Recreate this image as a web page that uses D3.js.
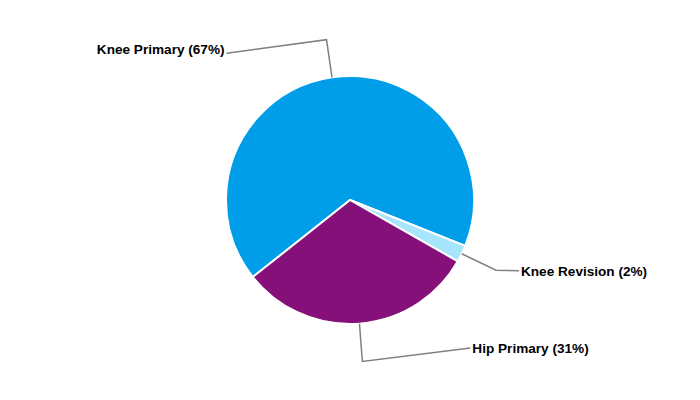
<!DOCTYPE html>
<html><head><meta charset="utf-8">
<script src="https://cdn.jsdelivr.net/npm/d3@7/dist/d3.min.js"></script>
<style>html,body{margin:0;padding:0;background:#fff;}svg{display:block;}</style>
</head><body>
<svg id="chart" width="700" height="400"></svg>
<script>
const categories = ["Knee Primary", "Knee Revision", "Hip Primary"];
const values = [66.7, 2.2, 31.1];
const pctLabels = ["67%", "2%", "31%"];
const colors = ["#009de9", "#a6e5fb", "#861079"];

const W = 700, H = 400, cx = 350, cy = 200, R = 124, elbowR = 162;
const startDeg = 231.6;
// label anchor offsets relative to elbow point (layout only)
const labelLayout = [
  {dx: -100, dy: 13.5, ty: -3.5, anchor: "end"},
  {dx: 23, dy: 0.5, ty: 0.5, anchor: "start"},
  {dx: 108, dy: -13.5, ty: 0.5, anchor: "start"}
];

const svg = d3.select("#chart");
const g = svg.append("g").attr("transform", `translate(${cx},${cy})`);
const data = categories.map((c, i) => ({cat: c, value: values[i], pct: pctLabels[i], color: colors[i], i}));
const start = startDeg * Math.PI / 180;
const pie = d3.pie().value(d => d.value).sort(null).startAngle(start).endAngle(start + 2 * Math.PI);
const arcs = pie(data);
const arc = d3.arc().innerRadius(0).outerRadius(R);

g.selectAll("path.slice").data(arcs).join("path")
  .attr("class", "slice")
  .attr("d", arc)
  .attr("fill", d => d.data.color)
  .attr("stroke", "#fff")
  .attr("stroke-width", 2)
  .attr("stroke-linejoin", "round");

arcs.forEach(a => {
  const mid = (a.startAngle + a.endAngle) / 2;
  const p0 = [R * Math.sin(mid), -R * Math.cos(mid)];
  const p1 = [elbowR * Math.sin(mid), -elbowR * Math.cos(mid)];
  const L = labelLayout[a.data.i];
  const p2 = [p1[0] + L.dx, p1[1] + L.dy];
  g.append("polyline")
    .attr("points", [p0, p1, p2].map(p => p.join(",")).join(" "))
    .attr("fill", "none")
    .attr("stroke", "#808080")
    .attr("stroke-width", 1.5);
  g.append("text")
    .attr("x", p2[0] + (L.anchor === "end" ? -2 : 2))
    .attr("y", p2[1] + L.ty)
    .attr("dy", "0.35em")
    .attr("text-anchor", L.anchor)
    .attr("font-family", "Liberation Sans, Arial, sans-serif")
    .attr("font-weight", "bold")
    .attr("font-size", 13.6)
    .attr("fill", "#000")
    .text(`${a.data.cat} (${a.data.pct})`);
});
</script>
</body></html>
